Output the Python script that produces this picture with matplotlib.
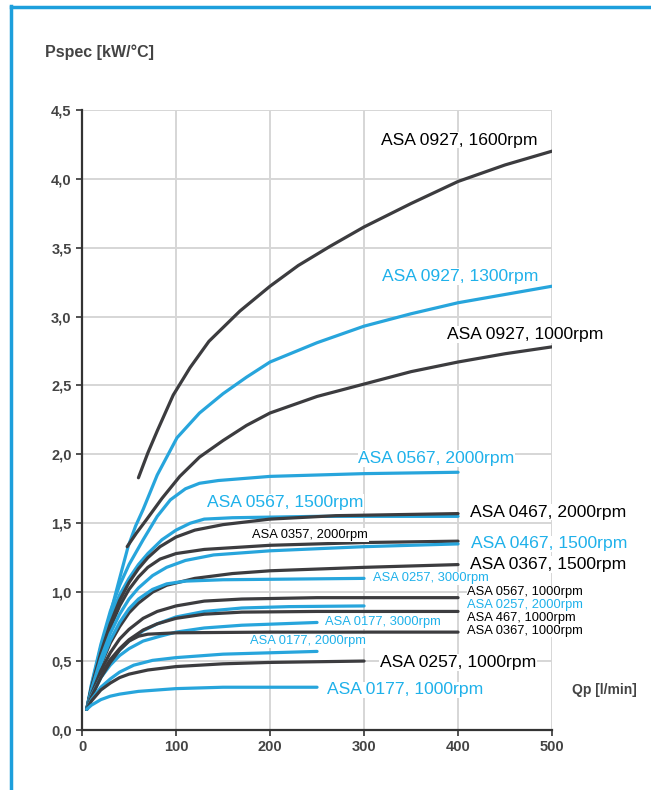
import matplotlib
matplotlib.use("Agg")
from matplotlib import pyplot as plt
from matplotlib.lines import Line2D

plt.rcParams['font.family'] = ['Liberation Sans', 'DejaVu Sans']

DARK = '#3c3c3f'
BLUE = '#27a5dc'
BLUE_TXT = '#1fb1ea'

# flow Qp [l/min] and specific power Pspec [kW/C]
asa0927_1600_x = [60, 70, 80, 97, 115, 135, 168, 200, 230, 264, 300, 350, 400, 450, 500]
asa0927_1600_y = [1.83, 2.01, 2.17, 2.43, 2.63, 2.82, 3.04, 3.22, 3.37, 3.51, 3.65, 3.82, 3.98, 4.10, 4.20]
asa0927_1300_x = [5, 10, 15, 22, 30, 40, 49, 57, 65, 80, 101, 125, 150, 175, 200, 250, 300, 350, 400, 450, 500]
asa0927_1300_y = [0.15, 0.30, 0.44, 0.63, 0.84, 1.10, 1.33, 1.48, 1.60, 1.85, 2.12, 2.30, 2.44, 2.56, 2.67,
                  2.81, 2.93, 3.02, 3.10, 3.16, 3.22]
asa0927_1000_x = [48, 58, 69, 85, 104, 125, 150, 175, 200, 250, 300, 350, 400, 450, 500]
asa0927_1000_y = [1.33, 1.43, 1.53, 1.68, 1.84, 1.98, 2.10, 2.21, 2.30, 2.42, 2.51, 2.60, 2.67, 2.73, 2.78]
asa0567_2000_x = [5, 10, 20, 30, 40, 50, 65, 80, 94, 110, 125, 145, 200, 300, 400]
asa0567_2000_y = [0.15, 0.33, 0.62, 0.86, 1.05, 1.20, 1.38, 1.55, 1.67, 1.75, 1.79, 1.81, 1.84, 1.86, 1.87]
asa0567_1500_x = [5, 10, 20, 30, 40, 50, 60, 70, 85, 100, 115, 130, 160, 250, 400]
asa0567_1500_y = [0.15, 0.32, 0.60, 0.82, 0.98, 1.10, 1.20, 1.28, 1.38, 1.45, 1.50, 1.53, 1.54, 1.55, 1.55]
asa0467_2000_x = [5, 10, 20, 30, 40, 50, 60, 70, 83, 100, 120, 150, 200, 270, 400]
asa0467_2000_y = [0.15, 0.31, 0.56, 0.77, 0.94, 1.07, 1.17, 1.25, 1.33, 1.40, 1.45, 1.49, 1.53, 1.555, 1.57]
asa0357_2000_x = [5, 10, 20, 30, 40, 50, 60, 70, 83, 100, 130, 200, 300, 400]
asa0357_2000_y = [0.15, 0.30, 0.54, 0.74, 0.90, 1.02, 1.11, 1.18, 1.24, 1.28, 1.31, 1.34, 1.36, 1.37]
asa0467_1500_x = [5, 10, 20, 30, 40, 50, 60, 75, 90, 110, 140, 200, 300, 400]
asa0467_1500_y = [0.15, 0.29, 0.52, 0.70, 0.84, 0.95, 1.03, 1.12, 1.18, 1.23, 1.27, 1.30, 1.33, 1.35]
asa0367_1500_x = [5, 10, 20, 30, 40, 50, 60, 75, 90, 120, 160, 200, 300, 400]
asa0367_1500_y = [0.15, 0.27, 0.47, 0.63, 0.75, 0.85, 0.92, 1.00, 1.05, 1.10, 1.135, 1.155, 1.18, 1.20]
asa0257_3000_x = [5, 10, 20, 30, 40, 50, 60, 75, 90, 110, 150, 300]
asa0257_3000_y = [0.15, 0.28, 0.48, 0.65, 0.78, 0.88, 0.95, 1.02, 1.06, 1.08, 1.09, 1.10]
asa0567_1000_x = [5, 10, 20, 30, 40, 50, 65, 80, 100, 130, 170, 250, 400]
asa0567_1000_y = [0.15, 0.26, 0.43, 0.56, 0.66, 0.73, 0.81, 0.86, 0.90, 0.935, 0.95, 0.96, 0.96]
asa0257_2000_x = [5, 10, 20, 30, 40, 50, 65, 80, 100, 130, 170, 220, 300]
asa0257_2000_y = [0.15, 0.24, 0.38, 0.49, 0.58, 0.645, 0.72, 0.77, 0.82, 0.86, 0.885, 0.895, 0.90]
asa467_1000_x = [5, 10, 20, 30, 40, 50, 65, 80, 100, 130, 170, 250, 400]
asa467_1000_y = [0.15, 0.25, 0.40, 0.51, 0.59, 0.655, 0.725, 0.77, 0.81, 0.84, 0.855, 0.86, 0.86]
asa0177_3000_x = [5, 10, 20, 30, 40, 50, 65, 83, 100, 130, 170, 250]
asa0177_3000_y = [0.15, 0.25, 0.38, 0.47, 0.54, 0.59, 0.645, 0.68, 0.71, 0.74, 0.76, 0.78]
asa0367_1000_x = [5, 10, 20, 30, 40, 50, 60, 70, 100, 200, 400]
asa0367_1000_y = [0.15, 0.24, 0.38, 0.49, 0.58, 0.645, 0.68, 0.695, 0.705, 0.71, 0.71]
asa0177_2000_x = [5, 10, 20, 30, 40, 55, 75, 100, 150, 200, 250]
asa0177_2000_y = [0.15, 0.22, 0.31, 0.37, 0.42, 0.47, 0.505, 0.525, 0.55, 0.56, 0.57]
asa0257_1000_x = [5, 10, 20, 30, 40, 50, 70, 100, 150, 200, 300]
asa0257_1000_y = [0.15, 0.21, 0.29, 0.34, 0.38, 0.405, 0.435, 0.46, 0.48, 0.49, 0.50]
asa0177_1000_x = [5, 10, 20, 30, 40, 60, 80, 100, 150, 250]
asa0177_1000_y = [0.15, 0.18, 0.22, 0.245, 0.26, 0.28, 0.29, 0.30, 0.31, 0.31]

x_ticks = [0, 100, 200, 300, 400, 500]
y_ticks = [0.0, 0.5, 1.0, 1.5, 2.0, 2.5, 3.0, 3.5, 4.0, 4.5]
y_ticklabels = ['0,0', '0,5', '1,0', '1,5', '2,0', '2,5', '3,0', '3,5', '4,0', '4,5']

# (label, x, y, colour, label x, label y, big font)
curves = [
    ('ASA 0927, 1600rpm', asa0927_1600_x, asa0927_1600_y, DARK, 318, 4.28, True),
    ('ASA 0927, 1300rpm', asa0927_1300_x, asa0927_1300_y, BLUE, 319, 3.29, True),
    ('ASA 0927, 1000rpm', asa0927_1000_x, asa0927_1000_y, DARK, 388, 2.87, True),
    ('ASA 0567, 2000rpm', asa0567_2000_x, asa0567_2000_y, BLUE, 294, 1.97, True),
    ('ASA 0567, 1500rpm', asa0567_1500_x, asa0567_1500_y, BLUE, 133, 1.65, True),
    ('ASA 0467, 2000rpm', asa0467_2000_x, asa0467_2000_y, DARK, 413, 1.58, True),
    ('ASA 0357, 2000rpm', asa0357_2000_x, asa0357_2000_y, DARK, 181, 1.415, False),
    ('ASA 0467, 1500rpm', asa0467_1500_x, asa0467_1500_y, BLUE, 414, 1.35, True),
    ('ASA 0367, 1500rpm', asa0367_1500_x, asa0367_1500_y, DARK, 413, 1.20, True),
    ('ASA 0257, 3000rpm', asa0257_3000_x, asa0257_3000_y, BLUE, 310, 1.10, False),
    ('ASA 0567, 1000rpm', asa0567_1000_x, asa0567_1000_y, DARK, 410, 1.00, False),
    ('ASA 0257, 2000rpm', asa0257_2000_x, asa0257_2000_y, BLUE, 410, 0.905, False),
    ('ASA 467, 1000rpm', asa467_1000_x, asa467_1000_y, DARK, 410, 0.81, False),
    ('ASA 0177, 3000rpm', asa0177_3000_x, asa0177_3000_y, BLUE, 258, 0.78, False),
    ('ASA 0367, 1000rpm', asa0367_1000_x, asa0367_1000_y, DARK, 410, 0.72, False),
    ('ASA 0177, 2000rpm', asa0177_2000_x, asa0177_2000_y, BLUE, 179, 0.645, False),
    ('ASA 0257, 1000rpm', asa0257_1000_x, asa0257_1000_y, DARK, 317, 0.49, True),
    ('ASA 0177, 1000rpm', asa0177_1000_x, asa0177_1000_y, BLUE, 261, 0.29, True),
]

fig = plt.figure(figsize=(6.51, 7.9), dpi=100)
ax = fig.add_axes([0.126, 0.076, 0.722, 0.785])

for name, xs, ys, col, lx, ly, big in curves:
    ax.plot(xs, ys, color=col, lw=2.3, solid_capstyle='round',
            solid_joinstyle='round', zorder=3)
    tcol = BLUE_TXT if col == BLUE else 'black'
    ax.text(lx, ly, name, color=tcol, fontsize=12.6 if big else 9.3,
            ha='left', va='center', zorder=5,
            bbox=dict(facecolor='white', edgecolor='none', pad=0.5))

ax.set_xlim(0, 500)
ax.set_ylim(0, 4.5)
ax.set_xticks(x_ticks)
ax.set_yticks(y_ticks)
ax.set_yticklabels(y_ticklabels)
ax.grid(True, color='#d6d6d6', lw=1.4, zorder=0)
ax.set_axisbelow(True)
for s in ['top', 'right']:
    ax.spines[s].set_visible(False)
for s in ['left', 'bottom']:
    ax.spines[s].set_color('#333333')
    ax.spines[s].set_linewidth(1.6)
    ax.spines[s].set_zorder(4)
ax.tick_params(axis='both', colors='#333333', labelcolor='#444444',
               labelsize=10.5, width=1.2, length=4)
for lab in ax.get_xticklabels() + ax.get_yticklabels():
    lab.set_fontweight('bold')

fig.text(45 / 651, 1 - 52 / 790, 'Pspec [kW/\u00b0C]', fontsize=11.5,
         fontweight='bold', color='#444444', ha='left', va='center')
fig.text(572 / 651, 1 - 690 / 790, 'Qp [l/min]', fontsize=10,
         fontweight='bold', color='#444444', ha='left', va='center')

# blue frame on left and top edges
fig.add_artist(Line2D([11 / 651, 11 / 651], [0, 1 - 6 / 790], color='#1d9fdc',
                      lw=2.5, transform=fig.transFigure))
fig.add_artist(Line2D([11 / 651, 1], [1 - 7 / 790, 1 - 7 / 790], color='#1d9fdc',
                      lw=2.5, transform=fig.transFigure))

fig.savefig('out.png', dpi=100)
